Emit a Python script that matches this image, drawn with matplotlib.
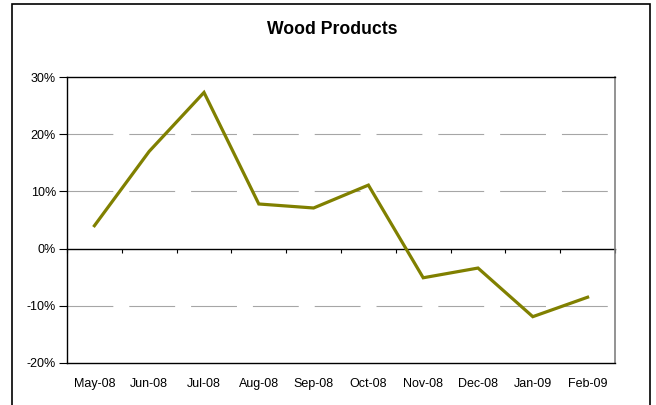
import matplotlib
matplotlib.use("Agg")
import matplotlib.pyplot as plt
from matplotlib.patches import Rectangle
from matplotlib.ticker import FuncFormatter
import numpy as np

months = ["May-08", "Jun-08", "Jul-08", "Aug-08", "Sep-08",
          "Oct-08", "Nov-08", "Dec-08", "Jan-09", "Feb-09"]
change_pct = [4.0, 17.0, 27.3, 7.8, 7.1, 11.1, -5.1, -3.4, -11.9, -8.5]
y_ticks = [-20, -10, 0, 10, 20, 30]

plt.rcParams["font.family"] = ["Liberation Sans", "DejaVu Sans"]
plt.rcParams["lines.scale_dashes"] = False

fig = plt.figure(figsize=(6.56, 4.05), dpi=100)
ax = fig.add_axes([67 / 656, 1 - 363 / 405, 548 / 656, 286 / 405])

x = np.arange(len(months))
ax.set_xlim(-0.5, len(months) - 0.5)
ax.set_ylim(-20, 30)

# dashed grid lines (no line at 0 and at the top)
for v in [20, 10, -10]:
    ax.axhline(v, color="#a6a6a6", lw=0.8, dashes=(33, 11.5), zorder=1)

ax.plot(x, change_pct, color="#808000", lw=2.3, solid_joinstyle="miter", zorder=3)

ax.set_yticks(y_ticks)
ax.yaxis.set_major_formatter(FuncFormatter(lambda v, p: f"{v:.0f}%"))
ax.tick_params(axis="y", length=6, width=0.8, pad=2, labelsize=9)

ax.set_xticks(x)
ax.set_xticklabels(months)
ax.tick_params(axis="x", length=0, pad=11, labelsize=9)

for side in ["left", "top", "bottom"]:
    ax.spines[side].set_color("black")
    ax.spines[side].set_linewidth(1.0)
ax.spines["right"].set_color("#808080")
ax.spines["right"].set_linewidth(1.2)

# category axis crossing at 0%
zero_axis = ax.secondary_xaxis(0.4)
zero_axis.set_xticks(np.arange(len(months) + 1) - 0.5)
zero_axis.set_xticklabels([])
zero_axis.tick_params(length=3, width=0.8, direction="out")
zero_axis.spines["bottom"].set_linewidth(1.0)

fig.text(332 / 656, 1 - 30 / 405, "Wood Products", ha="center", va="center",
         fontsize=12.7, fontweight="bold")

# chart frame
fig.patches.append(Rectangle((12 / 656, -0.05), 638 / 656, 1 - 4 / 405 + 0.05,
                             transform=fig.transFigure, fill=False,
                             edgecolor="black", lw=1.2))

fig.savefig("out.png", dpi=100)
